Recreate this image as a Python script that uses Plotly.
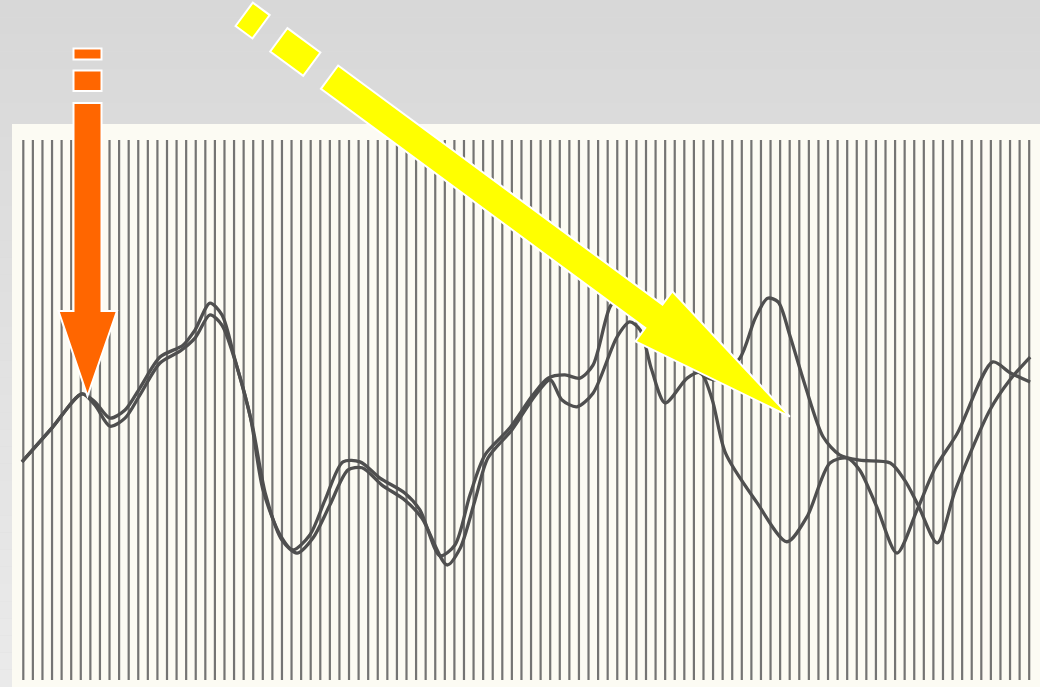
import math
import plotly.graph_objects as go

W, H = 1040, 687

# Vertical rules of the chart sheet (one per period)
rule_index = list(range(106))
rule_low = 0
rule_high = 100

# Series A (period index, value)
a_x = [-0.14, 3.0, 6.13, 7.49, 9.05, 10.62, 12.18, 14.27, 16.67, 17.92, 19.49, 20.74,
       22.1, 23.7, 25.02, 26.8, 28.15, 29.93, 31.49, 33.37, 35.15, 37.23, 39.84, 41.4,
       43.5, 45.06, 46.63, 48.2, 50.8, 53.2, 54.77, 56.54, 58.1, 59.47, 61.24, 62.49,
       65.4, 69.6, 72.2, 74.8, 76.4, 77.7, 78.8, 80.0, 81.6, 83.5, 85.2, 87.3, 90.5,
       92.0, 93.4, 95.4, 97.3, 100.9, 103.0, 105.1]
a_y = [40.4, 46.7, 53.0, 51.5, 48.5, 50.0, 54.1, 59.8, 62.0, 64.8, 69.8, 67.6,
       59.3, 48.7, 35.2, 26.9, 24.1, 26.9, 33.3, 40.4, 40.4, 37.4, 34.6, 31.5,
       23.0, 25.0, 34.3, 41.7, 46.7, 52.8, 55.9, 56.5, 55.9, 58.3, 69.1, 71.7,
       67.0, 58.3, 55.6, 59.6, 67.0, 70.7, 70.0, 63.9, 54.6, 45.0, 41.7, 40.7, 40.2,
       37.0, 32.4, 25.4, 35.2, 50.0, 55.6, 59.8]

# Series B (period index, value)
b_x = [-0.14, 3.0, 6.13, 7.49, 9.05, 10.62, 12.18, 14.27, 16.36, 17.92, 19.49, 20.74,
       22.4, 23.9, 25.3, 27.0, 28.57, 30.24, 32.0, 33.9, 35.36, 37.44, 39.84, 41.6,
       44.23, 45.6, 47.15, 48.5, 51.0, 53.4, 55.0, 56.2, 57.8, 59.47, 61.97, 63.3,
       64.4, 65.6, 67.0, 69.3, 70.7, 71.9, 73.3, 76.6, 79.7, 81.8, 84.2, 86.0, 87.3,
       89.1, 91.2, 93.3, 95.2, 97.5, 101.2, 103.0, 105.1]
b_y = [40.4, 46.7, 53.0, 50.9, 47.0, 48.5, 52.8, 58.7, 60.9, 63.3, 67.6, 65.7,
       57.4, 47.2, 34.3, 25.9, 23.5, 26.3, 32.4, 38.9, 39.3, 36.1, 33.3, 30.0,
       21.3, 24.4, 33.3, 41.1, 46.3, 52.6, 55.6, 51.9, 50.6, 53.1, 63.5, 66.3,
       64.8, 57.4, 51.3, 55.9, 56.9, 52.0, 42.0, 32.8, 25.6, 30.2, 40.2, 41.1, 38.9,
       32.0, 23.5, 31.5, 39.3, 45.7, 58.9, 56.9, 55.2]

INK = "#4f4f4f"

fig = go.Figure()

# Vertical rules drawn as one broken line trace
vx, vy = [], []
for i in rule_index:
    vx += [i, i, None]
    vy += [rule_low, rule_high, None]
fig.add_trace(go.Scatter(x=vx, y=vy, mode="lines",
                         line=dict(color="rgba(92,92,92,0.85)", width=2.2),
                         hoverinfo="skip", showlegend=False))

for xs, ys in ((a_x, a_y), (b_x, b_y)):
    fig.add_trace(go.Scatter(x=xs, y=ys, mode="lines",
                             line=dict(color=INK, width=3.3, shape="spline", smoothing=0.8),
                             hoverinfo="skip", showlegend=False))


def to_paper(px, py):
    return px / W, 1 - py / H


def path_of(points):
    pts = [to_paper(x, y) for x, y in points]
    return "M " + " L ".join(f"{x:.5f},{y:.5f}" for x, y in pts) + " Z"


shapes = []

# Soft grey backdrop, lighter toward the bottom
bands = 40
for k in range(bands):
    y0, y1 = k * H / bands, (k + 1) * H / bands
    g = int(round(216 + (234 - 216) * k / (bands - 1)))
    x0p, y0p = to_paper(0, y0)
    x1p, y1p = to_paper(W, y1)
    shapes.append(dict(type="rect", xref="paper", yref="paper", x0=x0p, x1=x1p,
                       y0=y1p, y1=y0p, fillcolor=f"rgb({g},{g},{g})",
                       line=dict(width=0), layer="below"))

# Cream chart sheet
sx0, sy0 = to_paper(12, 124)
sx1, sy1 = to_paper(W, H)
shapes.append(dict(type="rect", xref="paper", yref="paper", x0=sx0, x1=sx1,
                   y0=sy1, y1=sy0, fillcolor="#fcfbf3", line=dict(width=0),
                   layer="below"))

OUTLINE = dict(color="white", width=2)

# Orange downward pointer with two leading dashes
orange = "#ff6600"
orange_parts = [
    [(73.5, 48.5), (101.5, 48.5), (101.5, 59.5), (73.5, 59.5)],
    [(73.5, 70.5), (101.5, 70.5), (101.5, 91.0), (73.5, 91.0)],
    [(73.5, 103), (101.5, 103), (101.5, 311), (117, 311), (87.5, 396),
     (58.5, 311), (73.5, 311)],
]
for poly in orange_parts:
    shapes.append(dict(type="path", xref="paper", yref="paper", path=path_of(poly),
                       fillcolor=orange, line=OUTLINE, layer="above"))

# Yellow diagonal pointer with two leading dashes
ang = math.radians(36.4)
ux, uy = math.cos(ang), math.sin(ang)
nx, ny = -uy, ux
ox, oy = 329.5, 77.2


def along(t, s):
    return ox + t * ux + s * nx, oy + t * uy + s * ny


half = 14.5
yellow_parts = [
    [along(-106, -half), along(-85, -half), along(-85, half), along(-106, half)],
    [along(-63, -half), along(-22, -half), along(-22, half), along(-63, half)],
    [along(0, -half), along(403, -half), along(403, -31), along(572, 0),
     along(403, 31), along(403, half), along(0, half)],
]
for poly in yellow_parts:
    shapes.append(dict(type="path", xref="paper", yref="paper", path=path_of(poly),
                       fillcolor="#ffff00", line=OUTLINE, layer="above"))

x_lo, x_hi = (0 - 23.3) / 9.58, (W - 23.3) / 9.58
y_lo, y_hi = (680 - H) / 5.4, 680 / 5.4

fig.update_layout(
    width=W, height=H,
    margin=dict(l=0, r=0, t=0, b=0),
    paper_bgcolor="#dcdcdc",
    plot_bgcolor="rgba(0,0,0,0)",
    shapes=shapes,
    xaxis=dict(range=[x_lo, x_hi], visible=False, fixedrange=True),
    yaxis=dict(range=[y_lo, y_hi], visible=False, fixedrange=True),
    showlegend=False,
)

fig.write_html("out.html")
